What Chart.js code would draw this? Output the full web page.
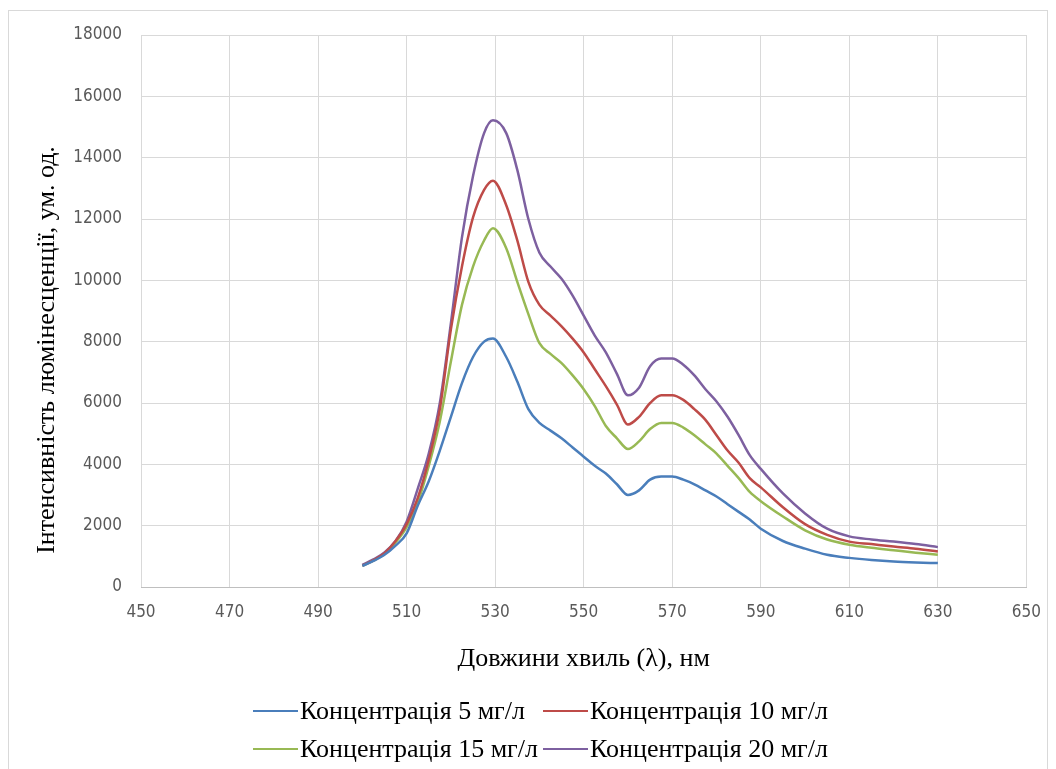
<!DOCTYPE html>
<html lang="uk">
<head>
<meta charset="utf-8">
<title>Спектри люмінесценції</title>
<script src="https://cdn.jsdelivr.net/npm/chart.js@4.4.1/dist/chart.umd.min.js"></script>
<style>
  html, body { margin: 0; padding: 0; background: #fff; }
  .frame {
    position: absolute; left: 8px; top: 10px; width: 1040px; height: 800px;
    border: 1px solid #d9d9d9; box-sizing: border-box;
  }
  .chart-wrap { position: absolute; left: 0; top: 0; width: 1056px; height: 769px; }
  #legend {
    position: absolute; left: 253px; top: 692px; width: 620px;
    display: grid; grid-template-columns: 290px auto; margin: 0; padding: 0; list-style: none;
    font-family: "Liberation Serif", "Times New Roman", serif; font-size: 26px; color: #000;
  }
  #legend li { display: flex; align-items: center; height: 38px; white-space: nowrap; }
  #legend .swatch { display: inline-block; width: 45px; height: 2px; margin-right: 2px; flex: none; }
</style>
</head>
<body>
<div class="frame"></div>
<div class="chart-wrap"><canvas id="spectra"></canvas></div>
<ul id="legend"></ul>
<script>
/* ---------------------------------------------------------
   Data (wavelength, nm -> intensity)
--------------------------------------------------------- */
const wavelengths = [500, 502.5, 505, 507.5, 510, 512.5, 515, 517.5, 520, 522.5, 525, 527.5, 529.5, 532.5, 535, 537.5,
  540, 542.5, 545, 547.5, 550, 552.5, 555, 557.5, 560, 562.5, 565, 567.5, 570, 572.5, 575, 577.5, 580, 582.5, 585, 587.5,
  590, 595, 600, 605, 610, 615, 620, 625, 630];

const conc5 = [690, 850, 1050, 1350, 1750, 2650, 3450, 4450, 5550, 6650, 7500, 8000, 8100, 7500, 6700, 5800,
  5350, 5100, 4850, 4550, 4250, 3950, 3700, 3350, 3000, 3150, 3500, 3600, 3600, 3500, 3350, 3150, 2950, 2700, 2450, 2200,
  1900, 1500, 1250, 1050, 950, 880, 830, 800, 780];

const conc10 = [700, 870, 1100, 1500, 2050, 2900, 4150, 5800, 8400, 10450, 12050, 12950, 13250, 12450, 11300, 9950,
  9200, 8850, 8500, 8100, 7650, 7100, 6550, 5950, 5300, 5550, 6000, 6250, 6250, 6100, 5800, 5450, 4950, 4450, 4050, 3550,
  3250, 2600, 2050, 1700, 1480, 1400, 1320, 1250, 1160];

const conc15 = [690, 860, 1080, 1450, 1950, 2750, 3950, 5400, 7350, 9200, 10450, 11300, 11700, 11050, 9950, 8900,
  7950, 7600, 7300, 6900, 6450, 5900, 5250, 4850, 4500, 4750, 5150, 5350, 5350, 5200, 4950, 4650, 4350, 3950, 3550, 3100,
  2800, 2300, 1850, 1550, 1380, 1280, 1200, 1120, 1050];

const conc20 = [720, 900, 1130, 1500, 2130, 3200, 4350, 6000, 8600, 11400, 13400, 14800, 15220, 14800, 13600, 12000,
  10900, 10450, 10050, 9500, 8850, 8200, 7650, 6950, 6250, 6500, 7200, 7450, 7450, 7250, 6900, 6450, 6050, 5550, 4950, 4300,
  3850, 3050, 2400, 1900, 1650, 1550, 1480, 1400, 1300];

const seriesLabels = ["Концентрація 5 мг/л", "Концентрація 10 мг/л", "Концентрація 15 мг/л", "Концентрація 20 мг/л"];
const seriesColors = ["#4a7ebb", "#be4b48", "#98b954", "#7d60a0"];

const xTicks = [450, 470, 490, 510, 530, 550, 570, 590, 610, 630, 650];
const yTicks = [0, 2000, 4000, 6000, 8000, 10000, 12000, 14000, 16000, 18000];

const xTitle = "Довжини хвиль (λ), нм";
const yTitle = "Інтенсивність люмінесценції, ум. од.";

/* ---------------------------------------------------------
   Chart
--------------------------------------------------------- */
const toPoints = (values) => wavelengths.map((w, i) => ({ x: w, y: values[i] }));
const allSeries = [conc5, conc10, conc15, conc20];

const serif = "'Liberation Serif', 'Times New Roman', serif";
const tickFont = { family: "'Liberation Sans Narrow', 'DejaVu Sans Condensed', sans-serif", size: 17 };
const titleFont = { family: serif, size: 26 };
const gridColor = "#d9d9d9";
const tickColor = "#595959";

// The y title in the original sits a little below the plot centre,
// so it is drawn here instead of with the built-in scale title.
const yTitlePlugin = {
  id: "yTitle",
  afterDraw(chart) {
    const { ctx } = chart;
    ctx.save();
    ctx.translate(47, 350);
    ctx.rotate(-Math.PI / 2);
    ctx.font = `26px ${serif}`;
    ctx.fillStyle = "#000";
    ctx.textAlign = "center";
    ctx.textBaseline = "middle";
    ctx.fillText(yTitle, 0, 0);
    ctx.restore();
  },
};

const chart = new Chart(document.getElementById("spectra"), {
  type: "line",
  data: {
    datasets: allSeries.map((values, i) => ({
      label: seriesLabels[i],
      data: toPoints(values),
      borderColor: seriesColors[i],
      backgroundColor: seriesColors[i],
      borderWidth: 2.5,
      pointRadius: 0,
      tension: 0.35,
      cubicInterpolationMode: "monotone",
      fill: false,
    })),
  },
  options: {
    responsive: true,
    maintainAspectRatio: false,
    animation: false,
    layout: { padding: { top: 35, right: 29, bottom: 82, left: 0 } },
    plugins: {
      legend: { display: false },
      tooltip: { enabled: false },
    },
    scales: {
      x: {
        type: "linear",
        min: 450,
        max: 650,
        afterBuildTicks: (s) => { s.ticks = xTicks.map((v) => ({ value: v })); },
        afterFit: (s) => { s.height = 100; },
        grid: { color: gridColor, drawTicks: false },
        border: { color: "#bfbfbf" },
        ticks: { color: tickColor, font: tickFont, padding: 15, maxRotation: 0, callback: (v) => String(v) },
        title: { display: true, text: xTitle, color: "#000", font: titleFont, padding: { top: 0, bottom: 12 } },
      },
      y: {
        min: 0,
        max: 18000,
        afterBuildTicks: (s) => { s.ticks = yTicks.map((v) => ({ value: v })); },
        afterFit: (s) => { s.width = 141; },
        grid: { color: gridColor, drawTicks: false },
        border: { display: false },
        ticks: { color: tickColor, font: tickFont, padding: 19, callback: (v) => String(v) },
      },
    },
  },
  plugins: [yTitlePlugin],
});

/* ---------------------------------------------------------
   HTML legend (two rows, like the original)
--------------------------------------------------------- */
const legendEl = document.getElementById("legend");
legendEl.innerHTML = chart.data.datasets.map((ds) => `
  <li><span class="swatch" style="background:${ds.borderColor}"></span>${ds.label}</li>
`).join("");
</script>
</body>
</html>
